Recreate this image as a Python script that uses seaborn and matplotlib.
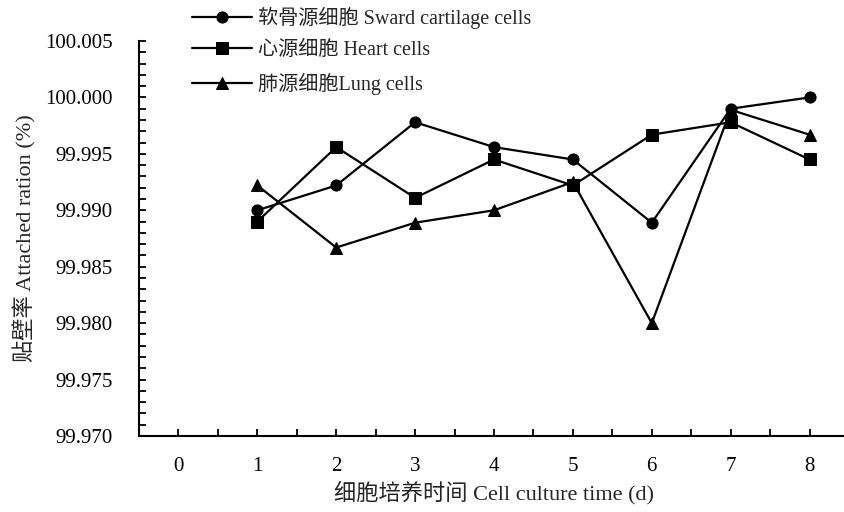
import pandas as pd
import matplotlib
matplotlib.use("Agg")
import matplotlib.pyplot as plt
import seaborn as sns

# dados
dias = [1, 2, 3, 4, 5, 6, 7, 8]
cartilagem = [99.9900, 99.9922, 99.9978, 99.9956, 99.9945, 99.9889, 99.9990, 100.0000]
coracao = [99.9890, 99.9956, 99.9911, 99.9945, 99.9922, 99.9967, 99.9978, 99.9945]
pulmao = [99.9922, 99.9867, 99.9889, 99.9900, 99.9925, 99.9800, 99.9989, 99.9967]
nomes = ["软骨源细胞 Sward cartilage cells", "心源细胞 Heart cells", "肺源细胞Lung cells"]
x_ticks = [0, 1, 2, 3, 4, 5, 6, 7, 8]
y_ticks = [99.970, 99.975, 99.980, 99.985, 99.990, 99.995, 100.000, 100.005]

df = pd.concat([
    pd.DataFrame({"dia": dias, "taxa": vals, "serie": nome})
    for vals, nome in zip([cartilagem, coracao, pulmao], nomes)
], ignore_index=True)

sns.set_style("ticks")
plt.rcParams["font.family"] = ["Liberation Serif", "Noto Sans CJK SC"]

fig = plt.figure(figsize=(8.44, 5.12), dpi=100)
ax = fig.add_axes([139 / 844, 76 / 512, 710 / 844, 395 / 512])

sns.lineplot(data=df, x="dia", y="taxa", hue="serie", style="serie",
             markers=["o", "s", "^"], dashes=False, palette=["black"] * 3,
             markersize=8, linewidth=1.6, markeredgecolor="black", ax=ax)

ax.set_xlim(-0.5, 8.5)
ax.set_ylim(99.970, 100.005)
ax.set_xticks(x_ticks)
ax.set_xticklabels([str(t) for t in x_ticks])
ax.set_xticks([t + 0.5 for t in range(-1, 9)], minor=True)
ax.set_yticks(y_ticks)
ax.set_yticklabels([f"{t:.3f}" for t in y_ticks])
ax.set_yticks([99.970 + i * 0.001 for i in range(36)], minor=True)
ax.tick_params(axis="both", which="both", direction="in", length=5, width=1.3,
               labelsize=15, color="black", labelcolor="black")
ax.tick_params(axis="x", pad=15)
ax.tick_params(axis="y", pad=19)
for lado in ["top", "right"]:
    ax.spines[lado].set_visible(False)
for lado in ["left", "bottom"]:
    ax.spines[lado].set_linewidth(1.5)
    ax.spines[lado].set_color("black")

ax.set_xlabel("细胞培养时间 Cell culture time (d)", fontsize=16, labelpad=4)
ax.set_ylabel("贴壁率 Attached ration (%)", fontsize=16, labelpad=6)

leg = ax.legend(loc="upper left", bbox_to_anchor=(192 / 844, 1 - 7 / 512),
                bbox_transform=fig.transFigure, frameon=False, fontsize=14.5,
                handlelength=3.0, handletextpad=0.3, labelspacing=0.6,
                borderaxespad=0, borderpad=0)

fig.savefig("out.png", dpi=100)
plt.close(fig)
